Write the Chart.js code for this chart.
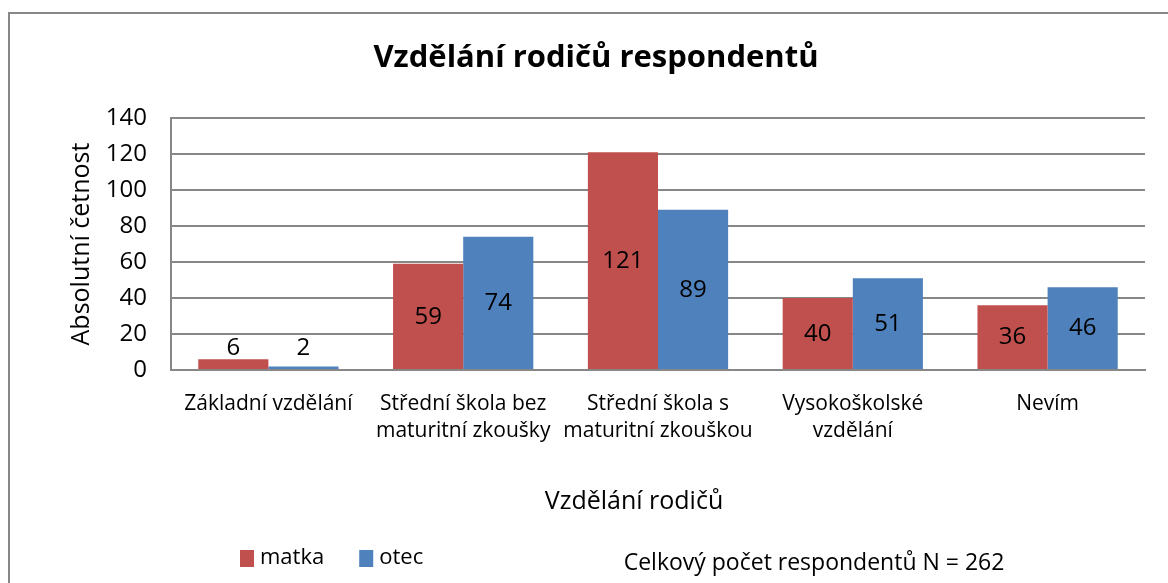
<!DOCTYPE html>
<html lang="cs">
<head>
<meta charset="UTF-8">
<title>Vzdělání rodičů respondentů</title>
<script src="https://cdn.jsdelivr.net/npm/chart.js"></script>
<style>
  html, body { margin: 0; padding: 0; background: #fff; overflow: hidden; }
  #wrap { position: relative; width: 1168px; height: 583px; }
</style>
</head>
<body>
<div id="wrap"><canvas id="graf" width="1168" height="583"></canvas></div>
<script>
  // data
  var kategorie = [
    ['Základní vzdělání'],
    ['Střední škola bez', 'maturitní zkoušky'],
    ['Střední škola s', 'maturitní zkouškou'],
    ['Vysokoškolské', 'vzdělání'],
    ['Nevím']
  ];
  var matka = [6, 59, 121, 40, 36];
  var otec = [2, 74, 89, 51, 46];
  var osaY = [0, 20, 40, 60, 80, 100, 120, 140];

  var pismo = '"Open Sans", sans-serif';

  // popisky hodnot, ramecek, nadpisy a legenda
  var kresleni = {
    id: 'kresleni',
    afterDatasetsDraw: function(chart) {
      var ctx = chart.ctx;
      var zaklad = chart.scales.y.getPixelForValue(0);
      ctx.save();
      ctx.font = '24px ' + pismo;
      ctx.fillStyle = '#000';
      ctx.textAlign = 'center';
      ctx.textBaseline = 'middle';
      chart.data.datasets.forEach(function(ds, i) {
        chart.getDatasetMeta(i).data.forEach(function(bar, j) {
          var y = Math.min((bar.y + zaklad) / 2, zaklad - 22);
          ctx.fillText(ds.data[j], bar.x, y);
        });
      });
      ctx.restore();
    },
    afterDraw: function(chart) {
      var ctx = chart.ctx;
      ctx.save();
      // ramecek grafu
      ctx.strokeStyle = '#878787';
      ctx.lineWidth = 2;
      ctx.strokeRect(9, 13, 1200, 620);

      ctx.fillStyle = '#000';
      ctx.textBaseline = 'middle';
      ctx.textAlign = 'center';
      ctx.font = 'bold 31px ' + pismo;
      ctx.fillText('Vzdělání rodičů respondentů', 596, 58);

      ctx.font = '25px ' + pismo;
      ctx.fillText('Vzdělání rodičů', 634, 502);
      ctx.font = '23px ' + pismo;
      ctx.fillText('Celkový počet respondentů N = 262', 814, 563);

      // legenda
      ctx.textAlign = 'left';
      ctx.font = '22px ' + pismo;
      var x = 240;
      chart.data.datasets.forEach(function(ds) {
        ctx.fillStyle = ds.backgroundColor;
        ctx.fillRect(x, 550, 14, 17);
        ctx.fillStyle = '#000';
        ctx.fillText(ds.label, x + 20, 558);
        x += 20 + ctx.measureText(ds.label).width + 35;
      });
      ctx.restore();
    }
  };

  new Chart(document.getElementById('graf'), {
    type: 'bar',
    data: {
      labels: kategorie,
      datasets: [
        { label: 'matka', data: matka, backgroundColor: '#C0504D' },
        { label: 'otec', data: otec, backgroundColor: '#4F81BD' }
      ]
    },
    options: {
      responsive: false,
      animation: false,
      events: [],
      layout: { padding: { left: 0, top: 118, right: 23, bottom: 0 } },
      datasets: { bar: { categoryPercentage: 0.72, barPercentage: 1.0 } },
      plugins: {
        legend: { display: false },
        title: { display: false },
        tooltip: { enabled: false }
      },
      scales: {
        x: {
          grid: { display: false, drawTicks: false },
          border: { color: '#878787', width: 2 },
          ticks: { color: '#000', font: { family: pismo, size: 21, lineHeight: 1.3 }, padding: 20, maxRotation: 0, autoSkip: false },
          afterFit: function(s) { s.height = 213; }
        },
        y: {
          min: 0,
          max: 140,
          afterBuildTicks: function(s) { s.ticks = osaY.map(function(v) { return { value: v }; }); },
          grid: { color: '#878787', lineWidth: 2, drawTicks: false },
          border: { color: '#878787', width: 2 },
          ticks: { color: '#000', font: { family: pismo, size: 24 }, padding: 24 },
          title: {
            display: true,
            text: 'Absolutní četnost',
            color: '#000',
            font: { family: pismo, size: 25 },
            padding: { top: 67, bottom: 0 }
          },
          afterFit: function(s) { s.width = 171; }
        }
      }
    },
    plugins: [kresleni]
  });
</script>
</body>
</html>
